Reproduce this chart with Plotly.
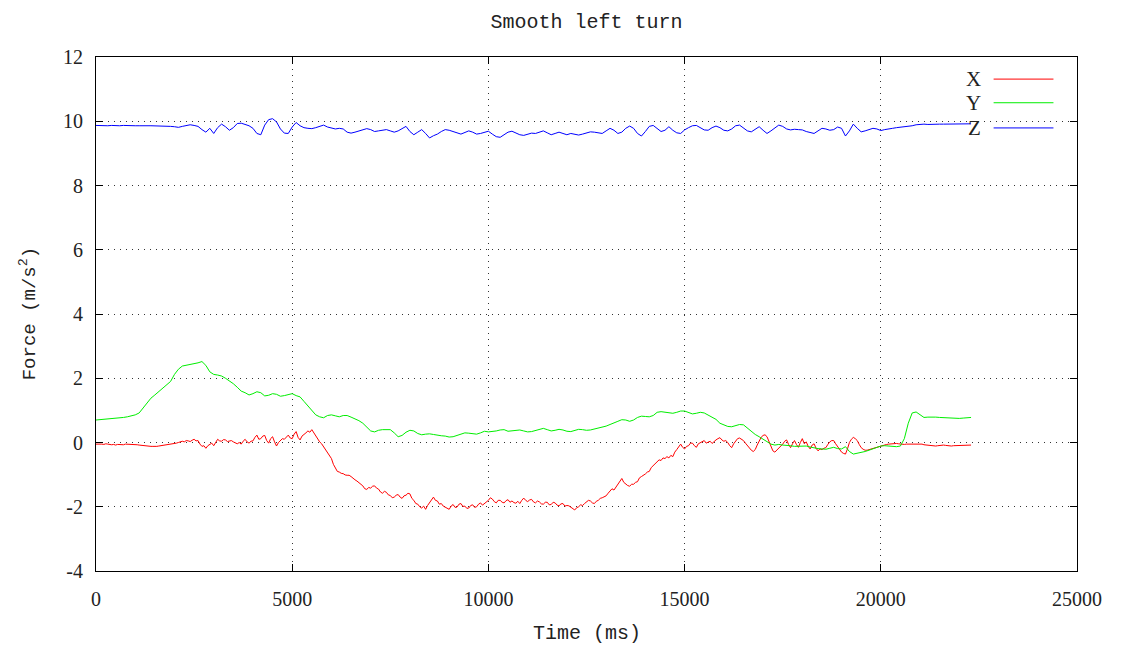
import plotly.graph_objects as go

# sampling grids (ms)
time_ms = list(range(0, 22301, 100))
time_x_ms = list(range(0, 22301, 50))

force_x = [
    -0.05, -0.05, -0.03, -0.05, -0.06, -0.04, -0.05, -0.07, -0.07, -0.06, -0.08, -0.06, -0.06, -0.08, -0.07, -0.05, -0.05, -0.07, -0.07, -0.05,
    -0.06, -0.07, -0.08, -0.09, -0.09, -0.10, -0.10, -0.11, -0.12, -0.12, -0.13, -0.12, -0.11, -0.10, -0.10, -0.10, -0.09, -0.08, -0.07, -0.05,
    -0.03, -0.02, 0.00, 0.03, 0.04, 0.02, 0.06, 0.05, 0.03, 0.07, 0.10, 0.05, 0.06, -0.05, -0.12, -0.10, -0.18, -0.10, -0.06, -0.02,
    -0.10, 0.02, 0.10, 0.05, 0.04, 0.09, 0.08, 0.03, 0.05, 0.06, 0.02, -0.02, -0.04, 0.00, -0.05, 0.04, 0.10, 0.02, -0.02, 0.04,
    0.05, 0.16, 0.23, 0.10, 0.12, 0.20, 0.22, 0.06, -0.02, 0.12, 0.18, 0.02, -0.11, 0.00, 0.06, 0.12, 0.10, 0.18, 0.23, 0.14,
    0.12, 0.26, 0.34, 0.16, 0.08, 0.20, 0.24, 0.30, 0.36, 0.32, 0.40, 0.30, 0.22, 0.10, 0.02, -0.04, -0.14, -0.24, -0.32, -0.44,
    -0.50, -0.68, -0.80, -0.90, -0.92, -0.96, -0.97, -1.01, -1.02, -1.02, -1.06, -1.12, -1.16, -1.20, -1.25, -1.31, -1.35, -1.44, -1.46, -1.40,
    -1.42, -1.36, -1.35, -1.42, -1.45, -1.54, -1.58, -1.52, -1.55, -1.63, -1.65, -1.72, -1.70, -1.64, -1.62, -1.70, -1.74, -1.66, -1.64, -1.58,
    -1.60, -1.74, -1.80, -1.90, -1.92, -2.00, -2.04, -1.98, -2.08, -1.96, -1.86, -1.76, -1.70, -1.80, -1.82, -1.92, -1.90, -1.98, -2.02, -2.06,
    -2.08, -1.98, -1.93, -2.02, -2.01, -1.92, -1.90, -1.99, -1.98, -2.05, -2.04, -1.96, -1.94, -2.02, -2.00, -1.92, -1.88, -1.95, -1.90, -1.84,
    -1.80, -1.72, -1.76, -1.84, -1.88, -1.80, -1.80, -1.86, -1.88, -1.81, -1.78, -1.86, -1.82, -1.87, -1.89, -1.83, -1.90, -1.80, -1.73, -1.80,
    -1.84, -1.79, -1.77, -1.85, -1.88, -1.82, -1.85, -1.91, -1.92, -1.86, -1.86, -1.94, -1.93, -1.86, -1.88, -1.95, -1.97, -1.91, -1.90, -1.98,
    -1.96, -1.97, -2.02, -2.08, -2.10, -2.03, -2.00, -1.94, -1.96, -1.90, -1.86, -1.80, -1.82, -1.88, -1.90, -1.83, -1.80, -1.74, -1.72, -1.70,
    -1.66, -1.58, -1.52, -1.44, -1.48, -1.38, -1.30, -1.20, -1.12, -1.24, -1.30, -1.34, -1.36, -1.30, -1.30, -1.24, -1.22, -1.10, -1.06, -1.03,
    -0.98, -0.92, -0.90, -0.78, -0.72, -0.64, -0.60, -0.54, -0.56, -0.48, -0.50, -0.44, -0.48, -0.40, -0.44, -0.30, -0.22, -0.12, -0.05, -0.15,
    -0.20, -0.12, -0.10, -0.02, -0.02, -0.10, -0.15, -0.04, 0.00, 0.04, 0.06, -0.02, 0.00, 0.04, -0.03, 0.04, 0.08, 0.12, 0.15, 0.08,
    0.04, 0.06, 0.00, -0.10, -0.16, -0.04, 0.06, 0.12, 0.14, 0.10, 0.06, -0.02, -0.10, -0.18, -0.24, -0.28, -0.22, -0.08, 0.06, 0.16,
    0.22, 0.24, 0.18, 0.02, -0.15, -0.26, -0.30, -0.24, -0.18, -0.10, -0.05, 0.04, 0.08, -0.06, -0.16, -0.04, 0.06, -0.06, -0.15, 0.00,
    0.12, -0.04, 0.02, -0.12, -0.20, -0.08, -0.04, -0.18, -0.26, -0.20, -0.22, -0.18, -0.16, -0.06, 0.02, 0.06, 0.06, -0.04, -0.12, -0.22,
    -0.30, -0.34, -0.36, -0.20, 0.00, 0.10, 0.16, 0.12, 0.06, -0.06, -0.16, -0.21, -0.24, -0.24, -0.22, -0.20, -0.18, -0.16, -0.14, -0.12,
    -0.10, -0.08, -0.07, -0.06, -0.05, -0.04, -0.04, -0.03, -0.03, -0.04, -0.05, -0.06, -0.06, -0.05, -0.05, -0.04, -0.04, -0.03, -0.03, -0.04,
    -0.04, -0.05, -0.07, -0.08, -0.09, -0.10, -0.10, -0.11, -0.11, -0.10, -0.09, -0.08, -0.08, -0.09, -0.10, -0.11, -0.11, -0.10, -0.10, -0.09,
    -0.09, -0.09, -0.10, -0.10, -0.09, -0.08, -0.08,
]

force_y = [
    0.70, 0.71, 0.72, 0.72, 0.73, 0.74, 0.76, 0.78, 0.80, 0.83,
    0.86, 0.92, 1.08, 1.25, 1.38, 1.48, 1.58, 1.68, 1.78, 1.90,
    2.12, 2.28, 2.38, 2.40, 2.42, 2.44, 2.48, 2.52, 2.40, 2.20,
    2.12, 2.10, 2.07, 2.00, 1.92, 1.83, 1.72, 1.60, 1.55, 1.48,
    1.52, 1.58, 1.55, 1.45, 1.47, 1.52, 1.50, 1.44, 1.46, 1.50,
    1.52, 1.46, 1.42, 1.28, 1.15, 1.02, 0.86, 0.80, 0.77, 0.84,
    0.86, 0.83, 0.80, 0.84, 0.84, 0.79, 0.74, 0.68, 0.60, 0.48,
    0.36, 0.33, 0.38, 0.40, 0.41, 0.40, 0.30, 0.18, 0.22, 0.32,
    0.38, 0.36, 0.28, 0.24, 0.26, 0.27, 0.25, 0.22, 0.21, 0.20,
    0.17, 0.18, 0.22, 0.25, 0.30, 0.29, 0.27, 0.26, 0.30, 0.35,
    0.33, 0.34, 0.36, 0.39, 0.40, 0.35, 0.36, 0.38, 0.39, 0.36,
    0.33, 0.34, 0.38, 0.42, 0.44, 0.40, 0.36, 0.38, 0.41, 0.39,
    0.35, 0.34, 0.38, 0.41, 0.40, 0.38, 0.39, 0.42, 0.45, 0.47,
    0.51, 0.56, 0.60, 0.66, 0.71, 0.70, 0.66, 0.70, 0.78, 0.82,
    0.81, 0.80, 0.84, 0.94, 0.96, 0.94, 0.92, 0.91, 0.94, 0.98,
    0.98, 0.93, 0.89, 0.91, 0.94, 0.92, 0.86, 0.80, 0.72, 0.60,
    0.54, 0.50, 0.49, 0.52, 0.56, 0.55, 0.44, 0.36, 0.25, 0.18,
    0.10, 0.02, -0.05, -0.08, -0.06, -0.08, -0.08, -0.10, -0.12, -0.12,
    -0.10, -0.11, -0.14, -0.17, -0.19, -0.20, -0.21, -0.18, -0.15, -0.19,
    -0.20, -0.13, -0.28, -0.36, -0.34, -0.31, -0.28, -0.24, -0.19, -0.14,
    -0.11, -0.10, -0.11, -0.12, -0.13, -0.11, 0.12, 0.60, 0.92, 0.95,
    0.85, 0.78, 0.79, 0.80, 0.79, 0.78, 0.77, 0.77, 0.76, 0.75,
    0.75, 0.76, 0.77, 0.78,
]

force_z = [
    9.87, 9.86, 9.87, 9.86, 9.87, 9.86, 9.86, 9.87, 9.86, 9.86,
    9.86, 9.86, 9.85, 9.86, 9.86, 9.86, 9.85, 9.86, 9.85, 9.84,
    9.83, 9.81, 9.84, 9.87, 9.89, 9.87, 9.84, 9.74, 9.66, 9.78,
    9.62, 9.80, 9.91, 9.83, 9.72, 9.80, 9.93, 9.94, 9.90, 9.86,
    9.78, 9.62, 9.58, 9.88, 10.05, 10.08, 9.98, 9.76, 9.63, 9.62,
    9.82, 9.96, 9.86, 9.80, 9.78, 9.77, 9.80, 9.83, 9.88, 9.82,
    9.78, 9.76, 9.78, 9.76, 9.66, 9.63, 9.66, 9.70, 9.75, 9.77,
    9.74, 9.68, 9.70, 9.72, 9.74, 9.70, 9.66, 9.70, 9.76, 9.84,
    9.68, 9.58, 9.66, 9.74, 9.62, 9.48, 9.55, 9.60, 9.68, 9.74,
    9.72, 9.67, 9.64, 9.60, 9.66, 9.70, 9.66, 9.60, 9.62, 9.66,
    9.69, 9.60, 9.52, 9.50, 9.58, 9.66, 9.69, 9.64, 9.58, 9.56,
    9.60, 9.63, 9.62, 9.66, 9.70, 9.64, 9.58, 9.62, 9.66, 9.62,
    9.58, 9.62, 9.60, 9.57, 9.60, 9.64, 9.67, 9.66, 9.63, 9.62,
    9.70, 9.78, 9.72, 9.62, 9.66, 9.78, 9.85, 9.78, 9.62, 9.54,
    9.68, 9.84, 9.87, 9.78, 9.68, 9.72, 9.83, 9.72, 9.64, 9.62,
    9.73, 9.80, 9.86, 9.87, 9.80, 9.73, 9.72, 9.80, 9.85, 9.80,
    9.72, 9.70, 9.76, 9.86, 9.88, 9.80, 9.70, 9.67, 9.74, 9.83,
    9.72, 9.62, 9.70, 9.80, 9.88, 9.84, 9.76, 9.73, 9.75, 9.74,
    9.73, 9.68, 9.64, 9.62, 9.70, 9.78, 9.76, 9.72, 9.74, 9.82,
    9.78, 9.54, 9.70, 9.91, 9.78, 9.67, 9.70, 9.73, 9.78, 9.76,
    9.71, 9.74, 9.77, 9.78, 9.80, 9.81, 9.82, 9.83, 9.86, 9.89,
    9.91, 9.91, 9.90, 9.91, 9.91, 9.91, 9.91, 9.91, 9.92, 9.91,
    9.92, 9.92, 9.92, 9.92,
]

series_names = ["X", "Y", "Z"]
series_colors = ["#ff0000", "#00ee00", "#0000ff"]
x_tick_vals = [0, 5000, 10000, 15000, 20000, 25000]
x_tick_text = ["0", "5000", "10000", "15000", "20000", "25000"]
y_tick_vals = [-4, -2, 0, 2, 4, 6, 8, 10, 12]
y_tick_text = ["-4", "-2", "0", "2", "4", "6", "8", "10", "12"]

fig = go.Figure()
for name, tx, vals, col in zip(series_names, [time_x_ms, time_ms, time_ms],
                               [force_x, force_y, force_z], series_colors):
    fig.add_trace(go.Scatter(x=tx, y=vals, mode="lines", name=name,
                             line=dict(color=col, width=1), showlegend=False))

serif = "Liberation Serif"
mono = "Liberation Mono"

axis_common = dict(
    showline=True, linecolor="black", linewidth=1, mirror="all",
    ticks="inside", ticklen=7, tickcolor="black", tickwidth=1,
    showgrid=True, gridcolor="#333333", gridwidth=1, griddash="1px,5px",
    zeroline=False, tickfont=dict(family=serif, size=20, color="#222"),
    automargin=False,
)

fig.update_xaxes(range=[0, 25000], tickvals=x_tick_vals, ticktext=x_tick_text,
                 ticklabelstandoff=10, **axis_common)
fig.update_yaxes(range=[-4, 12], tickvals=y_tick_vals, ticktext=y_tick_text,
                 ticklabelstandoff=8, **axis_common)

# Legend drawn gnuplot-style: label on the left, line sample on the right
legend_y = [0.957, 0.911, 0.862]
annotations = []
shapes = []
for name, col, ly in zip(series_names, series_colors, legend_y):
    annotations.append(dict(x=0.904, y=ly, xref="paper", yref="paper", text=name,
                            showarrow=False, xanchor="right", yanchor="middle",
                            font=dict(family=serif, size=21, color="#222")))
    shapes.append(dict(type="line", xref="paper", yref="paper", x0=0.915, x1=0.976,
                       y0=ly, y1=ly, line=dict(color=col, width=1)))

annotations.append(dict(x=0.5, y=-0.121, xref="paper", yref="paper", text="Time (ms)",
                        showarrow=False, xanchor="center", yanchor="middle",
                        font=dict(family=mono, size=20, color="#222")))
annotations.append(dict(x=-0.069, y=0.5, xref="paper", yref="paper",
                        text="Force (m/s<sup>2</sup>)", textangle=-90,
                        showarrow=False, xanchor="center", yanchor="middle",
                        font=dict(family=mono, size=19, color="#222")))

fig.update_layout(
    width=1115, height=641,
    margin=dict(l=88, r=46, t=49, b=78),
    paper_bgcolor="white", plot_bgcolor="white",
    title=dict(text="Smooth left turn", x=0.5, xref="paper", xanchor="center",
               y=1 - 13 / 641, yanchor="middle",
               font=dict(family=mono, size=20, color="#222")),
    annotations=annotations, shapes=shapes, showlegend=False,
)

fig.write_html("out.html")
